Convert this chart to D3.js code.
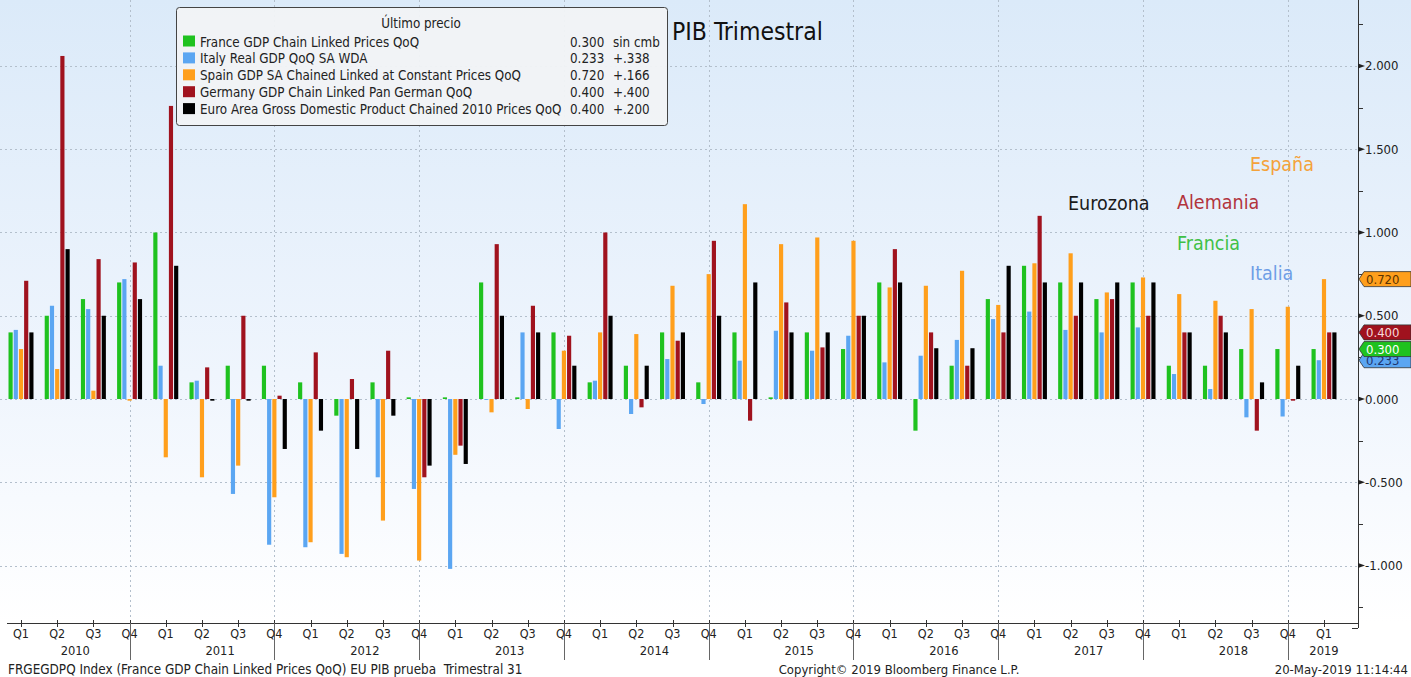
<!DOCTYPE html>
<html><head><meta charset="utf-8">
<script src="https://cdn.jsdelivr.net/npm/d3@7"></script>
<style>
body{margin:0;background:#fff;overflow:hidden;}
svg text{font-family:"DejaVu Sans Condensed","DejaVu Sans",sans-serif;font-stretch:condensed;}
</style></head><body><svg id="c" width="1411" height="677"></svg>
<script>
// ---------- DATA ----------
const quarterLabels = ["Q1","Q2","Q3","Q4","Q1","Q2","Q3","Q4","Q1","Q2","Q3","Q4","Q1","Q2","Q3","Q4","Q1","Q2","Q3","Q4","Q1","Q2","Q3","Q4","Q1","Q2","Q3","Q4","Q1","Q2","Q3","Q4","Q1","Q2","Q3","Q4","Q1"];
const quarterYears = ["2010","2010","2010","2010","2011","2011","2011","2011","2012","2012","2012","2012","2013","2013","2013","2013","2014","2014","2014","2014","2015","2015","2015","2015","2016","2016","2016","2016","2017","2017","2017","2017","2018","2018","2018","2018","2019"];
const seriesNames = ["France GDP Chain Linked Prices QoQ","Italy Real GDP QoQ SA WDA","Spain GDP SA Chained Linked at Constant Prices QoQ","Germany GDP Chain Linked Pan German QoQ","Euro Area Gross Domestic Product Chained 2010 Prices QoQ"];
const seriesColors = ["#1fc21f","#5ba6f2","#ff9f1c","#a0121e","#000000"];
const lastValues = ["0.300","0.233","0.720","0.400","0.400"];
const changes = ["sin cmb","+.338","+.166","+.400","+.200"];
const france  = [0.40,0.50,0.60,0.70, 1.00,0.10,0.20,0.20, 0.10,-0.10,0.10,0.01, 0.01,0.70,0.01,0.40, 0.10,0.20,0.40,0.10, 0.40,0.01,0.40,0.30, 0.70,-0.19,0.20,0.60, 0.80,0.70,0.60,0.70, 0.20,0.20,0.30,0.30, 0.30];
const italy   = [0.415,0.56,0.54,0.72, 0.20,0.11,-0.57,-0.875, -0.89,-0.93,-0.47,-0.54, -1.02,0.00,0.40,-0.18, 0.11,-0.09,0.24,-0.03, 0.23,0.41,0.29,0.38, 0.22,0.26,0.355,0.48, 0.525,0.415,0.40,0.43, 0.15,0.06,-0.11,-0.105, 0.233];
const spain   = [0.30,0.18,0.05,-0.01, -0.35,-0.47,-0.40,-0.59, -0.86,-0.95,-0.73,-0.97, -0.335,-0.08,-0.06,0.29, 0.40,0.39,0.68,0.75, 1.17,0.93,0.97,0.95, 0.67,0.68,0.77,0.565, 0.815,0.875,0.64,0.73, 0.63,0.59,0.54,0.554, 0.72];
const germany = [0.71,2.06,0.84,0.82, 1.76,0.19,0.50,0.02, 0.28,0.12,0.29,-0.47, -0.28,0.93,0.56,0.38, 1.00,-0.05,0.35,0.95, -0.13,0.58,0.31,0.50, 0.90,0.40,0.20,0.40, 1.10,0.50,0.60,0.50, 0.40,0.50,-0.19,-0.01, 0.40];
const euro    = [0.40,0.90,0.50,0.60, 0.80,-0.01,-0.01,-0.30, -0.19,-0.30,-0.10,-0.40, -0.39,0.50,0.40,0.20, 0.50,0.20,0.40,0.50, 0.70,0.40,0.40,0.50, 0.70,0.305,0.305,0.80, 0.70,0.70,0.70,0.70, 0.40,0.40,0.10,0.20, 0.40];
const yTickValues = [-1.0,-0.5,0.0,0.5,1.0,1.5,2.0];
const yMinorValues = [-1.25,-0.75,-0.25,0.25,0.75,1.25,1.75,2.25];
const annotations = [
  {text:"España", color:"#f4a23a", x:1250, y:171},
  {text:"Eurozona", color:"#1a1a1a", x:1068, y:210},
  {text:"Alemania", color:"#b2343d", x:1177, y:209},
  {text:"Francia", color:"#3fc046", x:1177, y:250},
  {text:"Italia", color:"#6e9ee6", x:1250, y:280}
];
const tagOrder = [1,0,3,2];
const tagTextColors = ["#ffffff","#1b3570","#5a3300","#f7dada","#ffffff"];

const allSeries = [france, italy, spain, germany, euro];

// ---------- LAYOUT ----------
const svg = d3.select("#c");
const W = 1411, H = 677;
const axisX = 1358, plotTop = 8, plotBottom = 620, axisY = 623;

const defs = svg.append("defs");
const grad = defs.append("linearGradient").attr("id","bg").attr("x1",0).attr("y1",0).attr("x2",0).attr("y2",1);
grad.append("stop").attr("offset","0%").attr("stop-color","#dbeaf9");
grad.append("stop").attr("offset","60%").attr("stop-color","#eff5fd");
grad.append("stop").attr("offset","100%").attr("stop-color","#ffffff");
svg.append("rect").attr("width",W).attr("height",H).attr("fill","#ffffff");
svg.append("rect").attr("width",W).attr("height",axisY).attr("fill","url(#bg)");

const idx = d3.range(quarterLabels.length);
const x = d3.scaleBand().domain(idx).range([2.9, 1342.1]).paddingInner(0.31).paddingOuter(0.155);
const xs = d3.scaleBand().domain(d3.range(5)).range([0, x.bandwidth()]).paddingInner(0.2);
const y = d3.scaleLinear().domain([-1.327, 2.348]).range([plotBottom, plotTop]);
const cx = i => x(i) + x.bandwidth()/2;

// grid
const grid = svg.append("g").attr("stroke","#b3bfcc").attr("stroke-width",1).attr("stroke-dasharray","2,3");
grid.selectAll("line.h").data(yTickValues).join("line").attr("class","h")
  .attr("x1",0).attr("x2",axisX).attr("y1",d=>Math.round(y(d))+0.5).attr("y2",d=>Math.round(y(d))+0.5);
const q4 = idx.filter(i => quarterLabels[i]==="Q4");
grid.selectAll("line.v").data(q4).join("line").attr("class","v")
  .attr("x1",i=>Math.round(cx(i))+0.5).attr("x2",i=>Math.round(cx(i))+0.5).attr("y1",0).attr("y2",axisY);

// bars
const bars = svg.append("g");
allSeries.forEach((s, si) => {
  bars.append("g").attr("fill", seriesColors[si]).selectAll("rect").data(s).join("rect")
    .attr("x",(d,i)=>x(i)+xs(si))
    .attr("width",xs.bandwidth())
    .attr("y",d=>Math.min(y(d),y(0)))
    .attr("height",d=>Math.max(0.8,Math.abs(y(d)-y(0))));
});

// x axis
svg.append("line").attr("x1",7).attr("x2",axisX).attr("y1",axisY+0.5).attr("y2",axisY+0.5).attr("stroke","#333");
svg.append("g").attr("stroke","#333").selectAll("line").data(idx).join("line")
  .attr("x1",i=>Math.round(cx(i))+0.5).attr("x2",i=>Math.round(cx(i))+0.5).attr("y1",620).attr("y2",627);
svg.append("g").attr("stroke","#666").selectAll("line").data(q4).join("line")
  .attr("x1",i=>Math.round(cx(i))+0.5).attr("x2",i=>Math.round(cx(i))+0.5).attr("y1",axisY).attr("y2",660);
svg.append("g").selectAll("text").data(idx).join("text")
  .attr("x",i=>cx(i)).attr("y",638).attr("text-anchor","middle").attr("font-size",12.5).attr("fill","#222")
  .text(i=>quarterLabels[i]);
const yearGroups = d3.groups(idx, i=>quarterYears[i]);
svg.append("g").selectAll("text").data(yearGroups).join("text")
  .attr("x",d=>(cx(d[1][0])+cx(d[1][d[1].length-1]))/2).attr("y",655).attr("text-anchor","middle")
  .attr("font-size",12.8).attr("fill","#222").text(d=>d[0]);

// right axis
svg.append("line").attr("x1",axisX+0.5).attr("x2",axisX+0.5).attr("y1",0).attr("y2",628).attr("stroke","#333");
svg.append("line").attr("x1",axisX-6).attr("x2",axisX).attr("y1",628.5).attr("y2",628.5).attr("stroke","#333");
svg.append("g").attr("fill","#222").selectAll("path").data(yTickValues).join("path")
  .attr("d",d=>{const yy=y(d);return `M${axisX},${yy-2.5}L${axisX+7},${yy}L${axisX},${yy+2.5}Z`;});
svg.append("g").attr("stroke","#333").selectAll("line").data(yMinorValues).join("line")
  .attr("x1",axisX).attr("x2",axisX+5).attr("y1",d=>Math.round(y(d))+0.5).attr("y2",d=>Math.round(y(d))+0.5);
const fmt = d3.format(".3f");
svg.append("g").selectAll("text").data(yTickValues).join("text")
  .attr("x",axisX+7).attr("y",d=>y(d)+4.5).attr("font-size",13).attr("fill","#222")
  .text(d=>fmt(d).replace("−","-"));

// value tags
const tags = svg.append("g");
tagOrder.forEach(si => {
  const v = +lastValues[si];
  const cy = y(v);
  const g = tags.append("g");
  g.append("path").attr("d",`M${axisX+1},${cy}L${axisX+6},${cy-7.5}L${W},${cy-7.5}L${W},${cy+7.5}L${axisX+6},${cy+7.5}Z`)
    .attr("fill",seriesColors[si]).attr("stroke","#333").attr("stroke-width",0.8);
  g.append("text").attr("x",axisX+8).attr("y",cy+5).attr("font-size",13).attr("fill",tagTextColors[si]).text(lastValues[si]);
});

// title
svg.append("text").attr("x",672).attr("y",40).attr("font-size",24.5).attr("fill","#111").text("PIB Trimestral");

// legend
const lg = svg.append("g");
lg.append("rect").attr("x",176.5).attr("y",7.5).attr("width",491).attr("height",118).attr("rx",3)
  .attr("fill","#f1f3f6").attr("fill-opacity",0.95).attr("stroke","#444").attr("stroke-width",1);
lg.append("text").attr("x",421).attr("y",28).attr("text-anchor","middle").attr("font-size",13.3).attr("fill","#222").text("Último precio");
seriesNames.forEach((n, si) => {
  const by = 46.5 + si*16.9;
  lg.append("rect").attr("x",183).attr("y",by-11).attr("width",12).attr("height",11).attr("fill",seriesColors[si]);
  lg.append("text").attr("x",200).attr("y",by).attr("font-size",13.3).attr("fill","#222").text(n);
  lg.append("text").attr("x",570).attr("y",by).attr("font-size",13.3).attr("fill","#222").text(lastValues[si]);
  lg.append("text").attr("x",613).attr("y",by).attr("font-size",13.3).attr("fill","#222").text(changes[si]);
});

// annotations
svg.append("g").selectAll("text").data(annotations).join("text")
  .attr("x",d=>d.x).attr("y",d=>d.y).attr("font-size",19.5).attr("fill",d=>d.color).text(d=>d.text);

// footer
svg.append("text").attr("x",8).attr("y",674).attr("font-size",13.4).attr("fill","#222")
  .text("FRGEGDPQ Index (France GDP Chain Linked Prices QoQ) EU PIB prueba  Trimestral 31").attr("xml:space","preserve").style("white-space","pre");
svg.append("text").attr("x",899).attr("y",674).attr("text-anchor","middle").attr("font-size",13).attr("fill","#222")
  .text("Copyright© 2019 Bloomberg Finance L.P.");
svg.append("text").attr("x",1408).attr("y",674).attr("text-anchor","end").attr("font-size",13).attr("fill","#222")
  .text("20-May-2019 11:14:44");
</script></body></html>
